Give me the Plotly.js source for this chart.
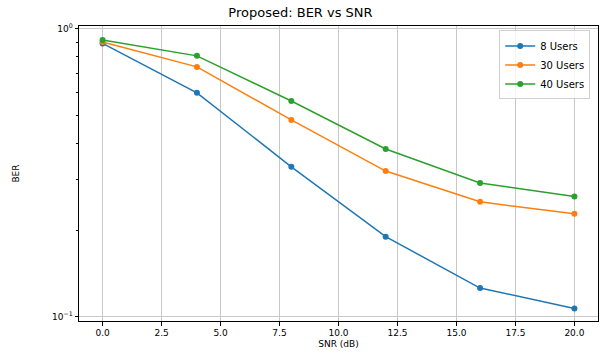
<!DOCTYPE html>
<html>
<head>
<meta charset="utf-8">
<script src="https://cdn.plot.ly/plotly-3.0.1.min.js"></script>
<style>html,body{margin:0;padding:0;background:#fff;}#chart{width:601px;height:360px;}</style>
</head>
<body>
<div id="chart"></div>
<script>
var snr = [0, 4, 8, 12, 16, 20];
var users8 = [0.89, 0.60, 0.332, 0.190, 0.126, 0.107];
var users30 = [0.90, 0.738, 0.483, 0.321, 0.251, 0.228];
var users40 = [0.915, 0.806, 0.562, 0.383, 0.292, 0.262];
var seriesNames = ['8 Users', '30 Users', '40 Users'];
var xTickVals = [0, 2.5, 5, 7.5, 10, 12.5, 15, 17.5, 20];
var xTickText = ['0.0', '2.5', '5.0', '7.5', '10.0', '12.5', '15.0', '17.5', '20.0'];
var yTickVals = [0.1, 1];
var yTickText = ['10<sup>\u22121</sup>', '10<sup>0</sup>'];
var yMinorTickVals = [0.2, 0.3, 0.4, 0.5, 0.6, 0.7, 0.8, 0.9];

var colors = ['#1f77b4', '#ff7f0e', '#2ca02c'];
var ys = [users8, users30, users40];
var traces = ys.map(function (y, i) {
  return {
    x: snr, y: y, name: seriesNames[i], type: 'scatter', mode: 'lines+markers',
    line: {color: colors[i], width: 1.5},
    marker: {color: colors[i], size: 6}
  };
});
// invisible helper trace so the minor-tick overlay axis is drawn
traces.push({x: snr, y: users8, yaxis: 'y2', type: 'scatter', mode: 'markers',
  marker: {opacity: 0}, showlegend: false, hoverinfo: 'skip'});

var yRange = [-1.014, 0.010];
var layout = {
  width: 601, height: 360,
  margin: {l: 79, r: 3, t: 26, b: 39},
  paper_bgcolor: '#fff', plot_bgcolor: '#fff',
  font: {family: 'DejaVu Sans', size: 9, color: '#000'},
  title: {text: 'Proposed: BER vs SNR', font: {family: 'DejaVu Sans', size: 13, color: '#000'}, x: 0.5, xanchor: 'center', y: 0.965, yanchor: 'middle'},
  xaxis: {
    range: [-1, 21], tickvals: xTickVals, ticktext: xTickText,
    showgrid: true, gridcolor: '#c8c8c8', gridwidth: 1,
    showline: true, linecolor: '#000', linewidth: 1, mirror: true,
    ticks: 'outside', ticklen: 3.5, tickcolor: '#000', zeroline: false,
    tickfont: {family: 'DejaVu Sans', size: 9, color: '#000'},
    title: {text: 'SNR (dB)', font: {family: 'DejaVu Sans', size: 9, color: '#000'}, standoff: 3}
  },
  yaxis: {
    type: 'log', range: yRange, tickvals: yTickVals, ticktext: yTickText,
    showgrid: true, gridcolor: '#c8c8c8', gridwidth: 1,
    showline: true, linecolor: '#000', linewidth: 1, mirror: true,
    ticks: 'outside', ticklen: 3.5, tickcolor: '#000', zeroline: false,
    tickfont: {family: 'DejaVu Sans', size: 9, color: '#000'},
    title: {text: 'BER', font: {family: 'DejaVu Sans', size: 9, color: '#000'}, standoff: 30}
  },
  yaxis2: {
    type: 'log', range: yRange, overlaying: 'y', side: 'left',
    tickvals: yMinorTickVals, showticklabels: false,
    ticks: 'outside', ticklen: 2, tickcolor: '#000',
    showgrid: false, showline: false, zeroline: false
  },
  showlegend: true,
  legend: {
    x: 0.985, y: 0.985, xanchor: 'right', yanchor: 'top',
    bgcolor: 'rgba(255,255,255,0.8)', bordercolor: '#d0d0d0', borderwidth: 1,
    font: {family: 'DejaVu Sans', size: 10, color: '#000'},
    tracegroupgap: 0
  }
};
Plotly.newPlot('chart', traces, layout, {displayModeBar: false, staticPlot: true});
</script>
</body>
</html>
